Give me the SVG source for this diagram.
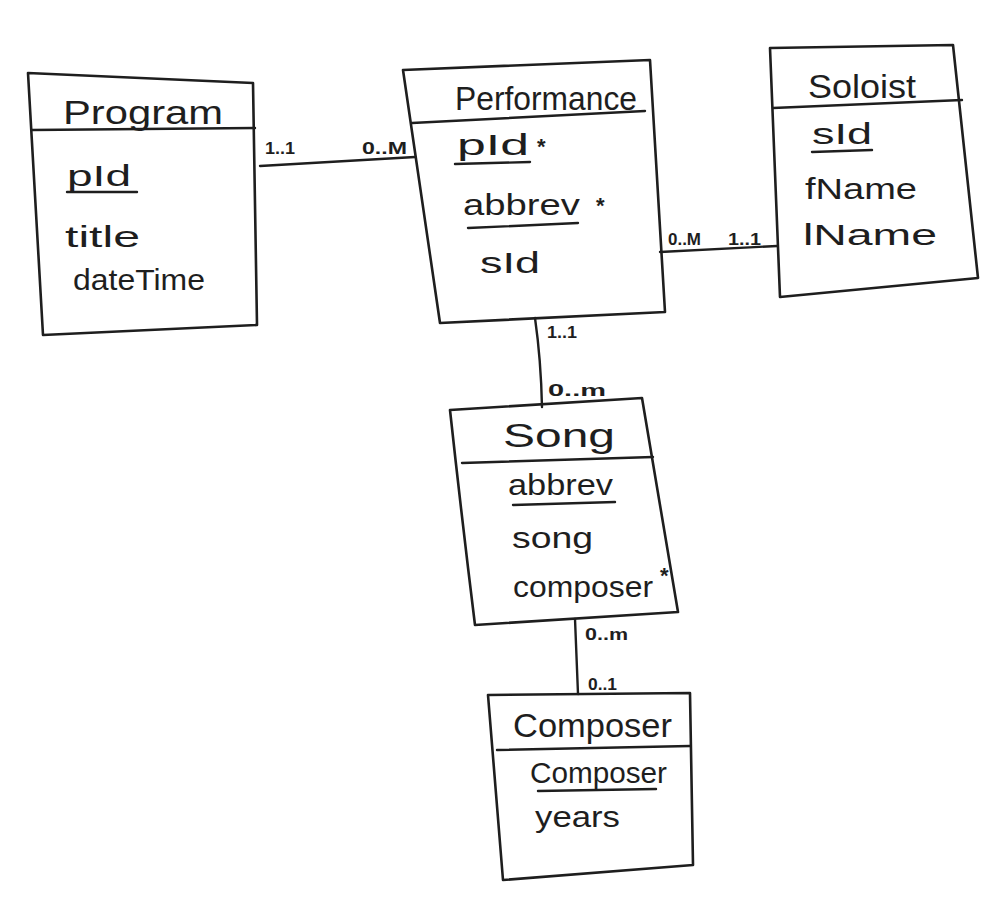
<svg xmlns="http://www.w3.org/2000/svg" width="985" height="901" viewBox="0 0 985 901">
<style>
.box{fill:none;stroke:#1e1e1e;stroke-width:2.6;stroke-linejoin:round}
.ln{fill:none;stroke:#1e1e1e;stroke-width:2.4;stroke-linecap:round}
.t{font-family:"Liberation Sans",Arial,sans-serif;fill:#1e1e1e}
.title{font-size:34px}
.attr{font-size:29px}
.mult{font-size:17px;font-weight:bold}
.star{font-size:22px;font-weight:bold}
</style>
<rect width="985" height="901" fill="#ffffff"/>
<g id="connectors">
<line class="ln" x1="260" y1="166" x2="415" y2="157"/>
<line class="ln" x1="660" y1="252" x2="777" y2="246"/>
<path class="ln" d="M535,318 Q541,360 542,407"/>
<line class="ln" x1="575" y1="619" x2="578" y2="694"/>
<text class="t mult" x="265" y="154" textLength="30" lengthAdjust="spacingAndGlyphs">1..1</text>
<text class="t mult" x="362" y="154" textLength="45" lengthAdjust="spacingAndGlyphs">0..M</text>
<text class="t mult" x="668" y="245" textLength="33" lengthAdjust="spacingAndGlyphs">0..M</text>
<text class="t mult" x="728" y="245" textLength="33" lengthAdjust="spacingAndGlyphs">1..1</text>
<text class="t mult" x="547" y="338" textLength="30" lengthAdjust="spacingAndGlyphs">1..1</text>
<text class="t mult" x="548" y="396" textLength="58" lengthAdjust="spacingAndGlyphs">0..m</text>
<text class="t mult" x="585" y="640" textLength="43" lengthAdjust="spacingAndGlyphs">0..m</text>
<text class="t mult" x="588" y="690" textLength="29" lengthAdjust="spacingAndGlyphs">0..1</text>
</g>
<g id="program">
<polygon class="box" points="28,73 253,83 257,325 43,335"/>
<line class="ln" x1="32" y1="130" x2="255" y2="128"/>
<text class="t title" x="63" y="124" textLength="160" lengthAdjust="spacingAndGlyphs">Program</text>
<text class="t attr" x="67" y="186" textLength="64" lengthAdjust="spacingAndGlyphs">pId</text>
<line class="ln" x1="67" y1="192" x2="137" y2="192"/>
<text class="t attr" x="65" y="247" textLength="75" lengthAdjust="spacingAndGlyphs">title</text>
<text class="t attr" x="73" y="290" textLength="132" lengthAdjust="spacingAndGlyphs">dateTime</text>
</g>
<g id="performance">
<polygon class="box" points="403,70 650,60 665,312 440,323"/>
<line class="ln" x1="412" y1="123" x2="645" y2="111"/>
<text class="t title" x="455" y="110" textLength="182" lengthAdjust="spacingAndGlyphs">Performance</text>
<text class="t attr" x="457" y="155" textLength="72" lengthAdjust="spacingAndGlyphs">pId</text>
<line class="ln" x1="455" y1="164" x2="530" y2="162"/>
<text class="t star" x="537" y="154">*</text>
<text class="t attr" x="463" y="215" textLength="117" lengthAdjust="spacingAndGlyphs">abbrev</text>
<line class="ln" x1="468" y1="228" x2="578" y2="223"/>
<text class="t star" x="596" y="213">*</text>
<text class="t attr" x="480" y="273" textLength="60" lengthAdjust="spacingAndGlyphs">sId</text>
</g>
<g id="soloist">
<polygon class="box" points="770,48 953,45 978,278 780,297"/>
<line class="ln" x1="773" y1="108" x2="962" y2="100"/>
<text class="t title" x="808" y="98" textLength="108" lengthAdjust="spacingAndGlyphs">Soloist</text>
<text class="t attr" x="812" y="144" textLength="60" lengthAdjust="spacingAndGlyphs">sId</text>
<line class="ln" x1="812" y1="152" x2="872" y2="150"/>
<text class="t attr" x="805" y="199" textLength="112" lengthAdjust="spacingAndGlyphs">fName</text>
<text class="t attr" x="803" y="245" textLength="134" lengthAdjust="spacingAndGlyphs">lName</text>
</g>
<g id="song">
<path class="box" d="M450,410 L642,398 L678,612 L475,625 Q462,520 450,410 Z"/>
<line class="ln" x1="462" y1="463" x2="653" y2="457"/>
<text class="t title" x="503" y="447" textLength="112" lengthAdjust="spacingAndGlyphs">Song</text>
<text class="t attr" x="508" y="495" textLength="105" lengthAdjust="spacingAndGlyphs">abbrev</text>
<line class="ln" x1="513" y1="505" x2="615" y2="502"/>
<text class="t attr" x="512" y="548" textLength="81" lengthAdjust="spacingAndGlyphs">song</text>
<text class="t attr" x="513" y="597" textLength="140" lengthAdjust="spacingAndGlyphs">composer</text>
<text class="t star" x="660" y="583">*</text>
</g>
<g id="composer">
<polygon class="box" points="488,695 690,693 693,865 503,880"/>
<line class="ln" x1="497" y1="750" x2="690" y2="746"/>
<text class="t title" x="513" y="737" textLength="159" lengthAdjust="spacingAndGlyphs">Composer</text>
<text class="t attr" x="530" y="783" textLength="137" lengthAdjust="spacingAndGlyphs">Composer</text>
<line class="ln" x1="538" y1="791" x2="656" y2="789"/>
<text class="t attr" x="535" y="827" textLength="85" lengthAdjust="spacingAndGlyphs">years</text>
</g>
</svg>
